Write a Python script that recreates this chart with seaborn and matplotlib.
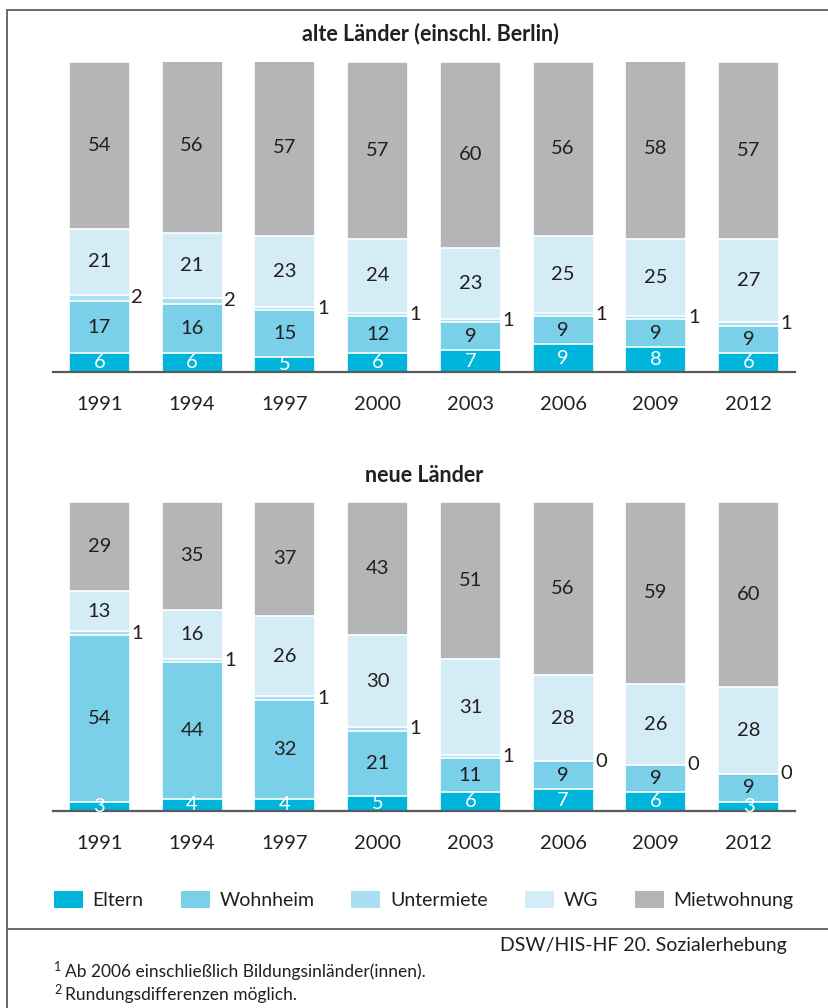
import matplotlib
matplotlib.use("Agg")
import matplotlib.pyplot as plt
import numpy as np
import pandas as pd
import seaborn as sns
from matplotlib.patches import Patch
from matplotlib.lines import Line2D

# --- data (percent of students by housing type) ---
years = ["1991", "1994", "1997", "2000", "2003", "2006", "2009", "2012"]
categories = ["Eltern", "Wohnheim", "Untermiete", "WG", "Mietwohnung"]

alte_eltern = [6, 6, 5, 6, 7, 9, 8, 6]
alte_wohnheim = [17, 16, 15, 12, 9, 9, 9, 9]
alte_untermiete = [2, 2, 1, 1, 1, 1, 1, 1]
alte_wg = [21, 21, 23, 24, 23, 25, 25, 27]
alte_miet = [54, 56, 57, 57, 60, 56, 58, 57]

neue_eltern = [3, 4, 4, 5, 6, 7, 6, 3]
neue_wohnheim = [54, 44, 32, 21, 11, 9, 9, 9]
neue_untermiete = [1, 1, 1, 1, 1, 0, 0, 0]
neue_wg = [13, 16, 26, 30, 31, 28, 26, 28]
neue_miet = [29, 35, 37, 43, 51, 56, 59, 60]

title_alte = "alte Länder (einschl. Berlin)"
title_neue = "neue Länder"
source = "DSW/HIS-HF 20. Sozialerhebung"
note_marks = ["1", "2"]
notes = ["Ab 2006 einschließlich Bildungsinländer(innen).",
         "Rundungsdifferenzen möglich."]

colors = ["#00b5dc", "#7ad0e8", "#a9dff0", "#d4ecf5", "#b4b5b7"]
text_color = "#231f20"
line_color = "#5a5a5a"

sns.set_theme(style="white")
plt.rcParams["font.family"] = ["Lato", "DejaVu Sans"]

W, H = 829, 1008
fig = plt.figure(figsize=(W / 100, H / 100), dpi=100)


def px_axes(left, top, right, bottom):
    return fig.add_axes([left / W, 1 - bottom / H, (right - left) / W, (bottom - top) / H])


def draw_panel(ax, series):
    df = pd.DataFrame(dict(zip(categories, series)), index=years)
    cum = df.cumsum(axis=1)
    # stacked look: draw cumulative totals from the top category downwards
    for cat, col in reversed(list(zip(categories, colors))):
        sns.barplot(x=years, y=cum[cat].values, order=years, color=col,
                    saturation=1, width=0.66, edgecolor="white", linewidth=1.2,
                    errorbar=None, ax=ax)
    for i, yr in enumerate(years):
        base = 0
        for cat in categories:
            v = df.loc[yr, cat]
            mid = base + v / 2
            if cat == "Untermiete":
                ax.text(i + 0.345, mid, f"{v}", ha="left", va="center",
                        fontsize=14.5, color=text_color)
            else:
                ax.text(i, mid, f"{v}", ha="center", va="center", fontsize=14.5,
                        color="white" if cat == "Eltern" else text_color)
            base += v
    ax.set_xlim(-0.5, 7.5)
    ax.set_ylim(0, 100)
    ax.set_yticks([])
    ax.set_xlabel("")
    ax.set_ylabel("")
    for s in ["top", "left", "right"]:
        ax.spines[s].set_visible(False)
    ax.spines["bottom"].set_color(line_color)
    ax.spines["bottom"].set_linewidth(1.6)
    ax.tick_params(axis="x", length=0, pad=17, labelsize=14.5, labelcolor=text_color)
    ax.set_facecolor("none")


ax1 = px_axes(53, 62, 795, 372)
draw_panel(ax1, [alte_eltern, alte_wohnheim, alte_untermiete, alte_wg, alte_miet])
ax2 = px_axes(53, 501.5, 795, 811)
draw_panel(ax2, [neue_eltern, neue_wohnheim, neue_untermiete, neue_wg, neue_miet])

fig.text(430 / W, 1 - 34 / H, title_alte, ha="center", va="center",
         fontsize=15.5, fontweight="bold", color=text_color)
fig.text(424 / W, 1 - 476 / H, title_neue, ha="center", va="center",
         fontsize=15.5, fontweight="bold", color=text_color)

handles = [Patch(facecolor=c, edgecolor="none") for c in colors]
fig.legend(handles, categories, loc="center left",
           bbox_to_anchor=(54 / W, 1 - 900 / H), ncol=5, frameon=False,
           fontsize=14, handlelength=1.49, handleheight=0.93,
           handletextpad=0.5, columnspacing=1.9, borderpad=0,
           borderaxespad=0, labelcolor=text_color)

# outer frame
frame_kw = dict(color="#6a6a6a", linewidth=1.4, transform=fig.transFigure)
fig.add_artist(Line2D([7 / W, 7 / W], [1 - 10 / H, 0], **frame_kw))
fig.add_artist(Line2D([7 / W, 1], [1 - 10 / H, 1 - 10 / H], **frame_kw))
fig.add_artist(Line2D([7 / W, 1], [1 - 929 / H, 1 - 929 / H], **frame_kw))

fig.text(787 / W, 1 - 945 / H, source, ha="right", va="center",
         fontsize=14, color=text_color)
for k, (mark, note) in enumerate(zip(note_marks, notes)):
    yc = 972 + 23 * k
    fig.text(54 / W, 1 - (yc - 5) / H, mark, ha="left", va="center",
             fontsize=9, color=text_color)
    fig.text(65 / W, 1 - yc / H, note, ha="left", va="center",
             fontsize=12.5, color=text_color)

fig.savefig("out.png", dpi=100, facecolor="white")
